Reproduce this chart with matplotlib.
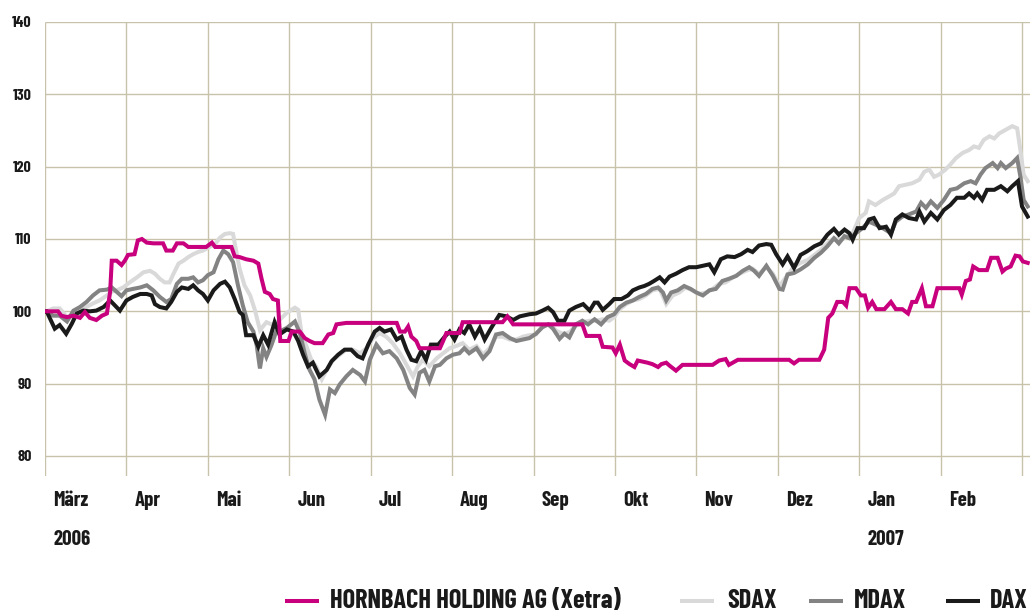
import matplotlib
matplotlib.use("Agg")
import matplotlib.pyplot as plt
from matplotlib.lines import Line2D
from matplotlib import font_manager

# a condensed bold face is closest to the original typography
bold_faces = {f.name for f in font_manager.fontManager.ttflist
              if isinstance(f.weight, int) and f.weight >= 700}
condensed = [n for n in ["Barlow Condensed", "Roboto Condensed", "Oswald",
                         "IBM Plex Sans Condensed", "Liberation Sans Narrow"] if n in bold_faces]
plt.rcParams['font.family'] = condensed[:1] + ['DejaVu Sans']
plt.rcParams['font.weight'] = 'bold'

# time axis in months since 1 March 2006
months = ["März", "Apr", "Mai", "Jun", "Jul", "Aug", "Sep", "Okt", "Nov", "Dez", "Jan", "Feb"]
years = {0: "2006", 10: "2007"}
yticks = [80, 90, 100, 110, 120, 130, 140]

hb_t = [0, 0.02, 0.16, 0.20, 0.27, 0.35, 0.43, 0.49, 0.55, 0.63, 0.70, 0.76, 0.80, 0.82, 0.88, 0.94,
        0.98, 1.02, 1.10, 1.14, 1.19, 1.25, 1.33, 1.45, 1.49, 1.57, 1.62, 1.70, 1.76, 1.98, 2.05, 2.09,
        2.29, 2.33, 2.39, 2.47, 2.56, 2.62, 2.66, 2.70, 2.76, 2.80, 2.86, 2.89, 2.99, 3.03, 3.13, 3.19,
        3.25, 3.31, 3.41, 3.48, 3.54, 3.58, 3.70, 4.32, 4.36, 4.42, 4.46, 4.50, 4.56, 4.60, 4.85, 4.89,
        4.93, 5.09, 5.13, 5.62, 5.68, 5.75, 6.60, 6.65, 6.81, 6.85, 6.97, 7.01, 7.06, 7.12, 7.18, 7.24,
        7.28, 7.40, 7.46, 7.53, 7.57, 7.63, 7.67, 7.75, 7.83, 8.20, 8.28, 8.36, 8.40, 8.51, 9.14, 9.20,
        9.26, 9.51, 9.57, 9.62, 9.67, 9.73, 9.80, 9.84, 9.88, 9.96, 10.02, 10.07, 10.11, 10.16, 10.21,
        10.31, 10.39, 10.45, 10.53, 10.60, 10.65, 10.70, 10.77, 10.82, 10.90, 10.96, 11.23, 11.26, 11.31,
        11.36, 11.40, 11.47, 11.57, 11.62, 11.70, 11.76, 11.80, 11.86, 11.92, 11.97, 12.01, 12.07]
hb_v = [100, 100, 100, 99.4, 99.2, 99.4, 99.1, 99.9, 99.1, 98.8, 99.4, 99.7, 102.7, 107, 107, 106.4,
        107, 107.8, 107.9, 109.8, 110, 109.5, 109.4, 109.4, 108.4, 108.4, 109.4, 109.4, 108.9, 108.9, 109.5, 108.9,
        108.9, 107.6, 107.5, 107.2, 107, 106.6, 104.5, 102.7, 102.4, 101.7, 101.5, 95.9, 95.9, 97.2, 97.2, 96.3,
        95.9, 95.6, 95.6, 96.8, 97, 98.2, 98.4, 98.4, 97.2, 97.2, 97.9, 96.5, 95.9, 94.9, 94.9, 95.9,
        97, 97, 98.5, 98.5, 99.3, 98.2, 98.2, 96.6, 96.6, 95.1, 95, 94.2, 95.4, 93.2, 92.7, 92.3,
        93.2, 92.9, 92.7, 92.3, 92.7, 92.9, 92.5, 91.8, 92.6, 92.6, 93.2, 93.4, 92.6, 93.3, 93.3, 92.8,
        93.3, 93.3, 94.7, 99.1, 99.7, 101.3, 101.3, 100.8, 103.2, 103.2, 102.2, 102.2, 100.5, 101.3, 100.3,
        100.3, 101.3, 100.3, 100.3, 99.7, 101.3, 101.3, 103.2, 100.7, 100.7, 103.2, 103.2, 102.3, 104.2,
        104.4, 106.2, 105.7, 105.7, 107.4, 107.4, 105.5, 105.9, 106.2, 107.7, 107.6, 106.9, 106.7]

sdax_t = [0, 0.02, 0.10, 0.18, 0.27, 0.35, 0.43, 0.51, 0.59, 0.67, 0.76, 0.82, 0.88, 0.96, 1.04, 1.13,
          1.21, 1.29, 1.35, 1.41, 1.47, 1.53, 1.57, 1.64, 1.70, 1.76, 1.82, 1.88, 1.94, 2.02, 2.09, 2.15,
          2.21, 2.27, 2.31, 2.35, 2.39, 2.45, 2.52, 2.58, 2.64, 2.72, 2.80, 2.88, 2.97, 3.07, 3.11, 3.15,
          3.21, 3.27, 3.33, 3.40, 3.46, 3.54, 3.62, 3.70, 3.78, 3.87, 3.95, 4.03, 4.11, 4.19, 4.27, 4.36,
          4.44, 4.52, 4.58, 4.64, 4.72, 4.81, 4.89, 4.97, 5.05, 5.13, 5.21, 5.30, 5.38, 5.46, 5.54, 5.62,
          5.71, 5.79, 5.87, 5.95, 6.03, 6.11, 6.20, 6.28, 6.36, 6.44, 6.52, 6.60, 6.69, 6.77, 6.85, 6.93,
          6.99, 7.06, 7.14, 7.22, 7.30, 7.38, 7.46, 7.55, 7.63, 7.71, 7.79, 7.87, 7.95, 8.04, 8.12, 8.20,
          8.28, 8.36, 8.45, 8.53, 8.61, 8.69, 8.77, 8.86, 8.94, 9.02, 9.10, 9.20, 9.28, 9.37, 9.45, 9.53,
          9.61, 9.69, 9.78, 9.86, 9.92, 10.00, 10.08, 10.12, 10.20, 10.29, 10.37, 10.43, 10.49, 10.57,
          10.65, 10.74, 10.80, 10.86, 10.92, 10.98, 11.06, 11.12, 11.19, 11.27, 11.35, 11.41, 11.47,
          11.53, 11.60, 11.66, 11.72, 11.80, 11.88, 11.94, 11.98, 12.02, 12.07]
sdax_v = [100, 100, 100.4, 100.4, 99.2, 99.4, 100, 100.6, 101.1, 101.5, 102.2, 102.7, 102.9, 103.3, 104, 104.7,
          105.4, 105.6, 105.2, 104.5, 104, 104, 105, 106.6, 107, 107.5, 107.9, 108.2, 108.4, 108.9, 109.3, 110.2,
          110.7, 110.8, 110.7, 108.2, 105.9, 103.6, 102.2, 100.1, 97.4, 98.5, 98.1, 98.8, 99.8, 100.5, 100.2, 97,
          95.2, 93.3, 92.4, 90.6, 91.9, 93.3, 94, 94.7, 94.7, 94.2, 94.9, 96.3, 97, 96.5, 95.6, 94.2,
          92.6, 91, 92.4, 93.3, 92.4, 93.5, 94.2, 94.9, 95.2, 95.6, 94.7, 95.2, 94, 94.9, 96.5, 96.5,
          96.1, 96.1, 96.5, 96.7, 96.8, 98, 98.2, 97.3, 96.9, 97.1, 98, 98.5, 98.7, 98.7, 98.9, 98.7,
          99.2, 100.3, 101, 101.5, 101.7, 102.2, 102.9, 103.1, 101, 102.2, 102.6, 103.3, 102.9, 102.4, 102.6, 103.1,
          103.8, 104, 104.7, 105.2, 105.6, 105.9, 105.2, 106.1, 105.2, 103.5, 104.7, 106.2, 106.7, 107.1, 107.8, 108.5,
          109.4, 110.1, 109.9, 110.4, 110.8, 112.9, 113.6, 115.2, 114.7, 115.4, 115.9, 116.3, 117.3, 117.5,
          117.7, 118.2, 119.3, 119.6, 118.6, 118.9, 119.6, 120.3, 121.2, 121.9, 122.3, 122.8, 122.6,
          123.7, 124.2, 123.9, 124.6, 125.1, 125.6, 125.3, 122.3, 118.9, 118]

mdax_t = [0, 0.02, 0.10, 0.18, 0.27, 0.35, 0.43, 0.51, 0.59, 0.67, 0.76, 0.82, 0.88, 0.94, 1.00, 1.08,
          1.17, 1.25, 1.33, 1.41, 1.49, 1.55, 1.62, 1.68, 1.76, 1.82, 1.88, 1.94, 2.00, 2.07, 2.13, 2.19,
          2.25, 2.31, 2.37, 2.43, 2.49, 2.56, 2.60, 2.64, 2.68, 2.72, 2.78, 2.84, 2.88, 2.97, 3.07, 3.13,
          3.19, 3.25, 3.31, 3.37, 3.44, 3.50, 3.56, 3.62, 3.70, 3.78, 3.87, 3.93, 3.99, 4.07, 4.15, 4.23,
          4.32, 4.40, 4.48, 4.54, 4.60, 4.66, 4.72, 4.79, 4.85, 4.93, 5.01, 5.09, 5.15, 5.21, 5.30, 5.38,
          5.46, 5.54, 5.62, 5.71, 5.79, 5.87, 5.95, 6.03, 6.11, 6.18, 6.24, 6.32, 6.38, 6.44, 6.52, 6.60,
          6.67, 6.75, 6.83, 6.91, 6.99, 7.06, 7.14, 7.22, 7.30, 7.38, 7.46, 7.53, 7.59, 7.63, 7.69, 7.77,
          7.85, 7.93, 8.00, 8.08, 8.16, 8.24, 8.32, 8.40, 8.49, 8.57, 8.65, 8.71, 8.77, 8.86, 8.94, 9.02,
          9.06, 9.12, 9.20, 9.28, 9.37, 9.45, 9.53, 9.61, 9.69, 9.75, 9.82, 9.88, 9.96, 10.04, 10.12,
          10.20, 10.29, 10.39, 10.45, 10.53, 10.61, 10.70, 10.76, 10.82, 10.88, 10.96, 11.04, 11.12,
          11.20, 11.29, 11.37, 11.43, 11.49, 11.55, 11.64, 11.70, 11.74, 11.80, 11.88, 11.94, 11.98,
          12.02, 12.07]
mdax_v = [100, 100, 99.4, 99.4, 98.6, 100.1, 100.6, 101.3, 102.2, 102.9, 103, 103.3, 102.7, 102.1, 102.9, 103.1,
          103.3, 103.6, 102.9, 102, 101.3, 101.7, 103.8, 104.5, 104.5, 104.7, 104, 104.3, 105, 105.4, 107.2, 108.4,
          107.9, 106.8, 103.6, 100.8, 98.5, 97.2, 95.3, 92.1, 94.9, 93.7, 95.3, 97.2, 97.2, 97.7, 98.6, 97,
          94.2, 91.9, 90.6, 87.8, 85.7, 89.2, 88.7, 89.9, 91, 91.9, 91.2, 90.3, 93.3, 95.4, 94.2, 94.5,
          93.5, 91.9, 89.4, 88.5, 91.5, 91.9, 90.3, 92.4, 92.6, 93.5, 94, 94.2, 94.9, 94.2, 94.9, 93.5,
          94.5, 96.8, 97, 96.3, 95.9, 96.1, 96.3, 96.9, 97.8, 98.2, 97.6, 96.2, 96.9, 96.4, 98.2, 98.7,
          98.2, 98.9, 98.2, 99.2, 99.6, 100.6, 101.2, 101.5, 102, 102.4, 103.1, 103.3, 102.6, 101.5, 102.6, 102.9,
          103.5, 103.1, 102.6, 102.2, 102.9, 103.1, 104.2, 104.5, 104.9, 105.6, 106.1, 105.6, 104.9, 106.3, 104.9, 103.1,
          103, 105.1, 105.3, 105.8, 106.5, 107.4, 108.1, 109, 110.1, 109.4, 110.4, 110.1, 110.8, 111.5, 112.4,
          112, 111.5, 110.8, 112.4, 113.1, 113.4, 113.8, 115, 114.3, 115.2, 114.3, 115.4, 116.8,
          117, 117.7, 118, 117.7, 118.9, 119.8, 120.5, 119.8, 120.5, 119.8, 120.5, 121.2, 118.6,
          115.4, 114.5]

dax_t = [0, 0.02, 0.12, 0.18, 0.26, 0.33, 0.39, 0.47, 0.55, 0.63, 0.72, 0.80, 0.86, 0.92, 1.00, 1.08,
         1.17, 1.25, 1.31, 1.35, 1.41, 1.49, 1.55, 1.62, 1.68, 1.76, 1.82, 1.88, 1.94, 2.00, 2.07, 2.15,
         2.21, 2.27, 2.33, 2.39, 2.43, 2.47, 2.56, 2.62, 2.68, 2.74, 2.82, 2.88, 2.97, 3.05, 3.11, 3.17,
         3.23, 3.29, 3.37, 3.46, 3.52, 3.60, 3.68, 3.76, 3.84, 3.90, 3.97, 4.05, 4.11, 4.17, 4.25, 4.32,
         4.38, 4.44, 4.50, 4.56, 4.62, 4.68, 4.74, 4.83, 4.91, 4.97, 5.03, 5.09, 5.15, 5.21, 5.28, 5.34,
         5.40, 5.48, 5.58, 5.67, 5.75, 5.83, 5.95, 6.03, 6.11, 6.18, 6.24, 6.30, 6.38, 6.44, 6.52, 6.61,
         6.69, 6.75, 6.79, 6.85, 6.93, 6.99, 7.08, 7.16, 7.22, 7.30, 7.36, 7.42, 7.48, 7.55, 7.61, 7.67,
         7.75, 7.83, 7.91, 8.00, 8.08, 8.16, 8.22, 8.30, 8.38, 8.47, 8.55, 8.63, 8.69, 8.77, 8.86, 8.92,
         8.98, 9.06, 9.12, 9.20, 9.28, 9.36, 9.45, 9.53, 9.61, 9.69, 9.75, 9.82, 9.88, 9.92, 9.98,
         10.06, 10.12, 10.18, 10.25, 10.33, 10.39, 10.45, 10.53, 10.61, 10.70, 10.74, 10.80, 10.88,
         10.96, 11.04, 11.12, 11.20, 11.29, 11.35, 11.41, 11.45, 11.51, 11.57, 11.66, 11.74, 11.82,
         11.88, 11.95, 12.00, 12.07]
dax_v = [100, 100, 97.6, 98.1, 96.9, 98.3, 99.7, 100.1, 100, 100.1, 100.6, 101.5, 100.8, 100.1, 101.5, 102,
         102.4, 102.4, 102.2, 101, 100.6, 100.4, 101.3, 102.7, 103.3, 103.1, 103.6, 102.9, 102.4, 101.5, 102.9, 103.8,
         104.1, 103.3, 101.7, 99.9, 99.5, 96.7, 96.7, 95.1, 96.7, 95.4, 98.5, 96.8, 97.5, 97.2, 95.9, 94,
         92.4, 92.9, 91, 91.9, 93.1, 94, 94.7, 94.7, 93.8, 93.5, 95.4, 97.2, 97.7, 97.2, 97.5, 96.1,
         96.5, 94.7, 93.3, 93.1, 94.5, 93.3, 95.4, 95.4, 96.5, 97.2, 96.1, 97.5, 97, 98.2, 96.5, 97.7,
         96.1, 97.7, 99.5, 99.3, 98.8, 99.3, 99.6, 99.7, 100.1, 100.5, 99.9, 98.7, 98.7, 100.1, 100.6, 101,
         100.1, 101.2, 101.2, 100.2, 101, 101.7, 101.7, 102.2, 102.9, 103.3, 103.5, 103.8, 104.2, 104.7, 104, 104.8,
         105.2, 105.7, 106.1, 106.1, 106.3, 106.5, 105.4, 107.2, 107.6, 107.5, 107.9, 108.5, 108.2, 109.1, 109.3, 109.2,
         107.9, 106.5, 107.6, 106, 107.8, 108.3, 109, 109.4, 110.6, 111.4, 110.6, 111.3, 110.8, 109.9, 111.5,
         111.5, 112.7, 112.9, 111.5, 111.7, 110.6, 112.7, 113.4, 112.9, 112.7, 113.8, 112.4, 113.6,
         112.7, 114, 114.7, 115.7, 115.7, 116.3, 115.7, 116.3, 115.4, 116.8, 116.8, 117.3, 116.6,
         117.3, 118, 114.5, 113.1]

series = [
    ("SDAX", sdax_t, sdax_v, "#d9d9d9"),
    ("MDAX", mdax_t, mdax_v, "#838383"),
    ("DAX", dax_t, dax_v, "#1a1a1a"),
    ("HORNBACH HOLDING AG (Xetra)", hb_t, hb_v, "#c8007d"),
]

grid_color = "#c9c2ab"
text_color = "#1a1a1a"

fig = plt.figure(figsize=(10.30, 6.14), dpi=100)
ax = fig.add_axes([45 / 1030, 1 - 476 / 614, 985 / 1030, 454 / 614])
ax.set_xlim(0, 12.098)
ax.set_ylim(77.235, 140)

ax.hlines(yticks, 0, 12.098, color=grid_color, lw=1.0, zorder=1)
ax.vlines(range(13), 77.235, 140, color=grid_color, lw=1.0, zorder=1)

for name, t, v, c in series:
    ax.plot(t, v, color=c, lw=2.9, solid_joinstyle="miter", zorder=3)

for s in ax.spines.values():
    s.set_visible(False)
ax.set_xticks([])
ax.set_yticks(yticks)
ax.set_yticklabels([str(y) for y in yticks], fontsize=11.5, color=text_color)
ax.tick_params(axis="y", length=0, pad=9.5)

trans = ax.get_xaxis_transform()
for i, m in enumerate(months):
    ax.text(i + 0.1, -0.066, m, transform=trans, ha="left", va="baseline",
            fontsize=15, color=text_color)
for i, y in years.items():
    ax.text(i + 0.1, -0.152, y, transform=trans, ha="left", va="baseline",
            fontsize=15, color=text_color)

# legend along the bottom edge
legend_pos = {"HORNBACH HOLDING AG (Xetra)": (285, 330), "SDAX": (680, 727),
              "MDAX": (809, 854), "DAX": (946, 990)}
for name, t, v, c in series:
    x0, xt = legend_pos[name]
    fig.add_artist(Line2D([x0 / 1030, (x0 + 34) / 1030], [1 - 601 / 614] * 2,
                          color=c, lw=2.9, solid_capstyle="butt"))
    fig.text(xt / 1030, 1 - 608 / 614, name, ha="left", va="baseline",
             fontsize=19, color=text_color)

fig.savefig("out.png", dpi=100)
